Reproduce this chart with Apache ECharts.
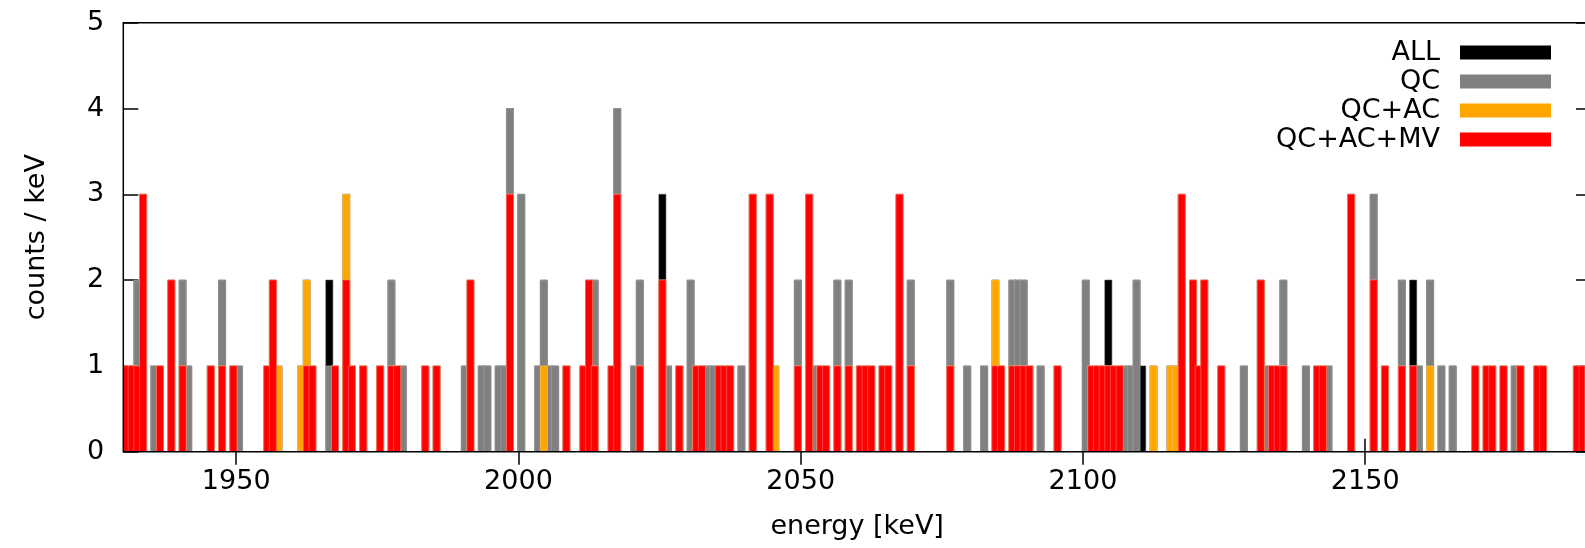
<!DOCTYPE html>
<html>
<head>
<meta charset="utf-8">
<script src="https://cdn.jsdelivr.net/npm/echarts@6/dist/echarts.min.js"></script>
<style>
  html, body { margin: 0; padding: 0; background: #fff; }
  #chart { width: 1585px; height: 548px; }
</style>
</head>
<body>
<div id="chart"></div>
<script>
// 1 keV bins, lower edge of each bin that has counts
const energies = [
  1930, 1931, 1932, 1933, 1935, 1936, 1938, 1940, 1941, 1945,
  1947, 1949, 1950, 1955, 1956, 1957, 1961, 1962, 1963, 1966,
  1967, 1969, 1970, 1972, 1975, 1977, 1978, 1979, 1983, 1985,
  1990, 1991, 1993, 1994, 1996, 1997, 1998, 2000, 2003, 2004,
  2005, 2006, 2008, 2011, 2012, 2013, 2016, 2017, 2020, 2021,
  2025, 2026, 2028, 2030, 2031, 2032, 2033, 2034, 2035, 2036,
  2037, 2039, 2041, 2044, 2045, 2049, 2051, 2052, 2053, 2054,
  2056, 2058, 2060, 2061, 2062, 2064, 2065, 2067, 2069, 2076,
  2079, 2082, 2084, 2085, 2087, 2088, 2089, 2090, 2092, 2095,
  2100, 2101, 2102, 2103, 2104, 2105, 2106, 2107, 2108, 2109,
  2110, 2112, 2115, 2116, 2117, 2119, 2120, 2121, 2124, 2128,
  2131, 2132, 2133, 2134, 2135, 2139, 2141, 2142, 2143, 2147,
  2151, 2153, 2156, 2158, 2159, 2161, 2163, 2165, 2169, 2171,
  2172, 2174, 2176, 2177, 2180, 2181, 2187, 2188, 2189
];
const allCounts = [
  1, 1, 2, 3, 1, 1, 2, 2, 1, 1,
  2, 1, 1, 1, 2, 1, 1, 2, 1, 2,
  1, 3, 1, 1, 1, 2, 1, 1, 1, 1,
  1, 2, 1, 1, 1, 1, 4, 3, 1, 2,
  1, 1, 1, 1, 2, 2, 1, 4, 1, 2,
  3, 1, 1, 2, 1, 1, 1, 1, 1, 1,
  1, 1, 3, 3, 1, 2, 3, 1, 1, 1,
  2, 2, 1, 1, 1, 1, 1, 3, 2, 2,
  1, 1, 2, 1, 2, 2, 2, 1, 1, 1,
  2, 1, 1, 1, 2, 1, 1, 1, 1, 2,
  1, 1, 1, 1, 3, 2, 1, 2, 1, 1,
  2, 1, 1, 1, 2, 1, 1, 1, 1, 3,
  3, 1, 2, 2, 1, 2, 1, 1, 1, 1,
  1, 1, 1, 1, 1, 1, 1, 1, 1
];
const qcCounts = [
  1, 1, 2, 3, 1, 1, 2, 2, 1, 1,
  2, 1, 1, 1, 2, 1, 1, 2, 1, 1,
  1, 3, 1, 1, 1, 2, 1, 1, 1, 1,
  1, 2, 1, 1, 1, 1, 4, 3, 1, 2,
  1, 1, 1, 1, 2, 2, 1, 4, 1, 2,
  2, 1, 1, 2, 1, 1, 1, 1, 1, 1,
  1, 1, 3, 3, 1, 2, 3, 1, 1, 1,
  2, 2, 1, 1, 1, 1, 1, 3, 2, 2,
  1, 1, 2, 1, 2, 2, 2, 1, 1, 1,
  2, 1, 1, 1, 1, 1, 1, 1, 1, 2,
  0, 1, 1, 1, 3, 2, 1, 2, 1, 1,
  2, 1, 1, 1, 2, 1, 1, 1, 1, 3,
  3, 1, 2, 1, 1, 2, 1, 1, 1, 1,
  1, 1, 1, 1, 1, 1, 1, 1, 1
];
const qcAcCounts = [
  1, 1, 1, 3, 0, 1, 2, 1, 0, 1,
  1, 1, 0, 1, 2, 1, 1, 2, 1, 0,
  1, 3, 1, 1, 1, 1, 1, 0, 1, 1,
  0, 2, 0, 0, 0, 0, 3, 0, 0, 1,
  0, 0, 1, 1, 2, 1, 1, 3, 0, 1,
  2, 0, 1, 0, 1, 1, 0, 0, 1, 1,
  1, 0, 3, 3, 1, 1, 3, 0, 1, 1,
  1, 1, 1, 1, 1, 1, 1, 3, 1, 1,
  0, 0, 2, 1, 1, 1, 1, 1, 0, 1,
  0, 1, 1, 1, 1, 1, 1, 0, 0, 0,
  0, 1, 1, 1, 3, 2, 1, 2, 1, 0,
  2, 0, 1, 1, 1, 0, 1, 1, 0, 3,
  2, 1, 1, 1, 0, 1, 0, 0, 1, 1,
  1, 1, 0, 1, 1, 1, 1, 1, 1
];
const qcAcMvCounts = [
  1, 1, 1, 3, 0, 1, 2, 1, 0, 1,
  1, 1, 0, 1, 2, 0, 0, 1, 1, 0,
  1, 2, 1, 1, 1, 1, 1, 0, 1, 1,
  0, 2, 0, 0, 0, 0, 3, 0, 0, 0,
  0, 0, 1, 1, 2, 1, 1, 3, 0, 1,
  2, 0, 1, 0, 1, 1, 0, 0, 1, 1,
  1, 0, 3, 3, 0, 1, 3, 0, 1, 1,
  1, 1, 1, 1, 1, 1, 1, 3, 1, 1,
  0, 0, 1, 1, 1, 1, 1, 1, 0, 1,
  0, 1, 1, 1, 1, 1, 1, 0, 0, 0,
  0, 0, 0, 0, 3, 2, 1, 2, 1, 0,
  2, 0, 1, 1, 1, 0, 1, 1, 0, 3,
  2, 1, 1, 1, 0, 0, 0, 0, 1, 1,
  1, 1, 0, 1, 1, 1, 1, 1, 1
];
const energyTicks = [1950, 2000, 2050, 2100, 2150];

const font = "DejaVu Sans";
const fontSize = 27;
const chart = echarts.init(document.getElementById("chart"));

// draws one 1 keV box per data item
function makeSeries(name, counts, color, edge) {
  return {
    name: name,
    type: "custom",
    clip: true,
    itemStyle: { color: color },
    encode: { x: 0, y: 1 },
    data: energies.map((e, i) => [e, counts[i]]),
    renderItem: (params, api) => {
      const count = api.value(1);
      if (!count) return null;
      const e = api.value(0);
      const top = api.coord([e, count]);
      const base = api.coord([e + 1, 0]);
      const cs = params.coordSys;
      const shape = echarts.graphic.clipRectByRect(
        {
          x: top[0] - 0.7,
          y: top[1],
          width: base[0] - top[0] + 1.4,
          height: base[1] - top[1],
        },
        { x: cs.x, y: cs.y, width: cs.width, height: cs.height }
      );
      if (!shape) return null;
      return {
        type: "rect",
        shape: shape,
        style: { fill: color, stroke: edge, lineWidth: 0.6 },
      };
    },
  };
}

chart.setOption({
  animation: false,
  textStyle: { fontFamily: font },
  grid: {
    left: 123.3,
    top: 22.7,
    width: 1467.7,
    height: 429,
    outerBoundsMode: "none",
    show: true,
    z: 10,
    borderColor: "#000",
    borderWidth: 1.5,
    backgroundColor: "rgba(0,0,0,0)",
  },
  legend: {
    orient: "vertical",
    right: 29,
    top: 34,
    align: "right",
    icon: "rect",
    itemWidth: 91,
    itemHeight: 14,
    itemGap: 2,
    itemStyle: { borderWidth: 0 },
    textStyle: {
      fontSize: fontSize,
      color: "#000",
      fontFamily: font,
      padding: [0, 15, 0, 0],
    },
    data: ["ALL", "QC", "QC+AC", "QC+AC+MV"],
  },
  xAxis: [
    {
      type: "value",
      position: "bottom",
      min: 1930,
      max: 2190,
      axisLine: { show: false },
      splitLine: { show: false },
      axisTick: {
        inside: true,
        length: 13,
        customValues: energyTicks,
        lineStyle: { color: "#000", width: 1.5 },
      },
      axisLabel: {
        customValues: energyTicks,
        formatter: (v) => String(v),
        margin: 17,
        fontSize: fontSize,
        color: "#000",
        fontFamily: font,
      },
      name: "energy [keV]",
      nameLocation: "middle",
      nameGap: 62,
      nameTextStyle: { fontSize: fontSize, color: "#000", fontFamily: font },
    },
    {
      type: "value",
      position: "top",
      min: 1930,
      max: 2190,
      axisLine: { show: false },
      splitLine: { show: false },
      axisTick: {
        inside: true,
        length: 13,
        customValues: energyTicks,
        lineStyle: { color: "#000", width: 1.5 },
      },
      axisLabel: { show: false },
    },
  ],
  yAxis: [
    {
      type: "value",
      position: "left",
      min: 0,
      max: 5,
      interval: 1,
      axisLine: { show: false },
      splitLine: { show: false },
      axisTick: { inside: true, length: 15, lineStyle: { color: "#000", width: 1.5 } },
      axisLabel: { margin: 19, fontSize: fontSize, color: "#000", fontFamily: font },
      name: "counts / keV",
      nameLocation: "middle",
      nameGap: 73,
      nameTextStyle: { fontSize: fontSize, color: "#000", fontFamily: font },
    },
    {
      type: "value",
      position: "right",
      min: 0,
      max: 5,
      interval: 1,
      axisLine: { show: false },
      splitLine: { show: false },
      axisTick: { inside: true, length: 15, lineStyle: { color: "#000", width: 1.5 } },
      axisLabel: { show: false },
    },
  ],
  series: [
    makeSeries("ALL", allCounts, "#000000", "#444444"),
    makeSeries("QC", qcCounts, "#808080", "#a8a8a8"),
    makeSeries("QC+AC", qcAcCounts, "#ffa500", "#ffc860"),
    makeSeries("QC+AC+MV", qcAcMvCounts, "#ff0000", "#ff7070"),
  ],
});
</script>
</body>
</html>
